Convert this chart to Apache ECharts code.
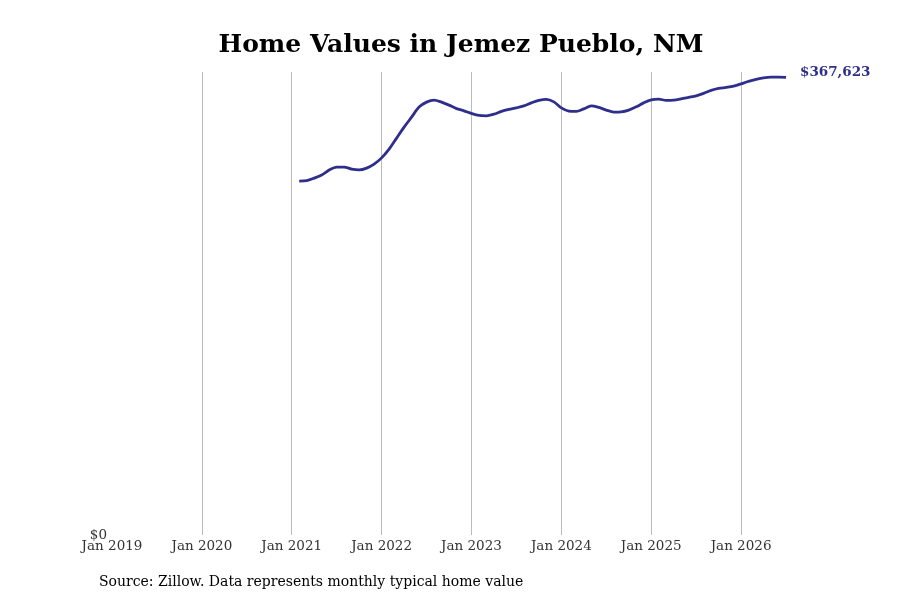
<!DOCTYPE html>
<html lang="en">
<head>
    <meta charset="UTF-8">
    <title>Home Values in Jemez Pueblo, NM</title>
    <script src="https://cdn.jsdelivr.net/npm/echarts@6/dist/echarts.min.js"></script>
    <style type="text/css">
        html, body { margin: 0; padding: 0; background: #fff; }
        #chart { width: 900px; height: 600px; }
    </style>
</head>
<body>
<div id="chart"></div>
<script type="text/javascript">
    // months are counted from Jan 2019 (index 0)
    var firstYear = 2019;
    var startMonth = 25;   // Feb 2021
    var lastMonth = 90;    // Jul 2026
    var tickYears = ['Jan 2019', 'Jan 2020', 'Jan 2021', 'Jan 2022', 'Jan 2023', 'Jan 2024', 'Jan 2025', 'Jan 2026'];

    // typical home value, monthly, Feb 2021 .. Jul 2026
    var homeValues = [
        284300, 284700, 286700, 289200, 293200, 295600, 295600, 294000, 293400, 294800, 298000,
        303000, 310000, 318900, 327700, 335700, 343800, 347800, 349400, 347800, 345400, 342600, 340800,
        338700, 337100, 336800, 338100, 340300, 341900, 343200, 344800, 347200, 349200, 350000, 348000,
        343200, 340600, 340300, 342400, 344800, 343500, 341400, 339800, 340000, 341400, 344000, 347200,
        349600, 350200, 349200, 349400, 350400, 351600, 352800, 354800, 357200, 358800, 359600, 360600,
        362500, 364400, 366000, 367300, 367900, 367900, 367623
    ];

    var chart = echarts.init(document.getElementById('chart'));

    var lineData = [];
    for (var i = 0; i < homeValues.length; i++) {
        lineData.push([startMonth + i, homeValues[i]]);
    }

    var serif = 'DejaVu Serif';

    var option = {
        backgroundColor: '#fff',
        animation: false,
        title: [{
            text: 'Home Values in Jemez Pueblo, NM',
            left: 456,
            top: 28,
            textAlign: 'center',
            textStyle: {fontFamily: serif, fontSize: 25, fontWeight: 'bold', color: '#000'}
        }, {
            text: 'Source: Zillow. Data represents monthly typical home value',
            left: 94,
            top: 570,
            textStyle: {fontFamily: serif, fontSize: 14, fontWeight: 'normal', color: '#000'}
        }],
        grid: {left: 112, right: 114, top: 72, bottom: 65},
        xAxis: {
            type: 'value',
            min: 0,
            max: lastMonth,
            interval: 12,
            axisLine: {show: false},
            axisTick: {show: false},
            axisLabel: {
                fontFamily: serif, fontSize: 13.5, color: '#333', margin: 4,
                showMaxLabel: false,
                formatter: function (v) { return tickYears[v / 12] || ''; }
            },
            splitLine: {show: true, showMinLine: false, showMaxLine: false, lineStyle: {color: '#bbb', width: 1}}
        },
        yAxis: {
            type: 'value',
            min: 0,
            max: 372000,
            axisLine: {show: false},
            axisTick: {show: false},
            splitLine: {show: false},
            axisLabel: {
                fontFamily: serif, fontSize: 13.5, color: '#333', margin: 5,
                formatter: function (v) { return v === 0 ? '$0' : ''; }
            }
        },
        series: [{
            type: 'line',
            data: lineData,
            showSymbol: false,
            smooth: 0.3,
            lineStyle: {color: '#2e2e8c', width: 2.8},
            itemStyle: {color: '#2e2e8c'},
            endLabel: {
                show: true,
                offset: [6, -5],
                fontFamily: serif, fontSize: 13.5, fontWeight: 'bold', color: '#2e2e8c',
                formatter: function (p) { return '$' + p.value[1].toLocaleString('en-US'); }
            }
        }]
    };
    chart.setOption(option);
</script>
</body>
</html>
